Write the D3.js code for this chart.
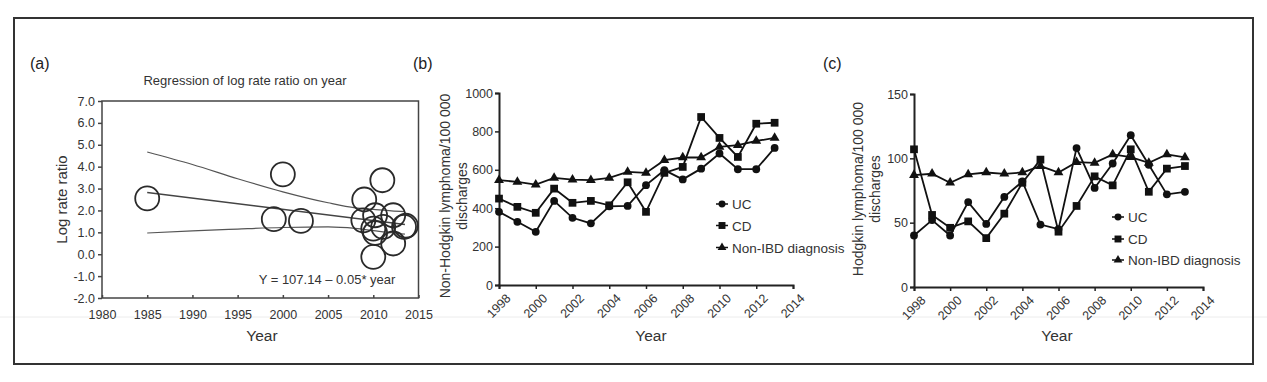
<!DOCTYPE html>
<html>
<head>
<meta charset="utf-8">
<script src="https://cdn.jsdelivr.net/npm/d3@7"></script>
<style>
  body { margin: 0; background: #fff; }
  svg { font-family: "Liberation Sans", Arial, sans-serif; }
</style>
</head>
<body>
<div id="chart"></div>
<script>
// panel (a): meta-regression bubbles
const bubbleYears = [1985, 2000, 1999, 2002, 2011, 2009, 2008.9, 2010.2, 2012.2, 2010, 2011.1, 2013.4, 2012.2, 2010, 2010.2, 2013.6];
const bubbleRatios = [2.55, 3.65, 1.6, 1.52, 3.38, 2.5, 1.55, 1.78, 1.78, 1.17, 1.25, 1.25, 0.49, -0.12, 0.97, 1.3];
const fitYears = [1985, 2013.5];
const fitValues = [2.82, 1.36];
const ciYears = [1985, 1990, 1995, 2000, 2005, 2008, 2010, 2012, 2013.5];
const ciUpper = [4.67, 4.1, 3.45, 2.85, 2.35, 2.12, 2.05, 1.98, 1.95];
const ciLower = [0.97, 1.07, 1.15, 1.22, 1.25, 1.18, 1.08, 0.98, 0.92];
const yTicksA = [-2, -1, 0, 1, 2, 3, 4, 5, 6, 7];
const xTicksA = [1980, 1985, 1990, 1995, 2000, 2005, 2010, 2015];

// panels (b) and (c): yearly rates
const years = d3.range(1998, 2014);
const nhlUC = [381, 329, 277, 438, 350, 321, 410, 412, 520, 598, 550, 606, 685, 603, 603, 714];
const nhlCD = [450, 407, 376, 502, 428, 438, 415, 535, 381, 584, 615, 875, 766, 667, 840, 845];
const nhlNon = [546, 537, 523, 558, 549, 546, 558, 589, 584, 650, 664, 664, 719, 728, 750, 766];
const hlUC = [40, 52, 40, 66, 49, 70, 82, 48.5, 45, 108, 77, 96, 118, 95, 72, 74];
const hlCD = [107, 56, 46, 51, 38, 57, 81, 99, 43, 63, 86, 79, 107, 74, 92, 94];
const hlNon = [87, 88, 81, 87.5, 89, 88, 89, 94, 89, 97, 96.5, 103, 101, 96.5, 103, 100.7];
const xTicksBC = [1998, 2000, 2002, 2004, 2006, 2008, 2010, 2012, 2014];
const seriesNames = ["UC", "CD", "Non-IBD diagnosis"];

const W = 1267, H = 382;
const svg = d3.select("#chart").append("svg")
  .attr("width", W)
  .attr("height", H);

// scan artefact line and outer frame
svg.append("line")
  .attr("x1", 0).attr("x2", W).attr("y1", 317).attr("y2", 317)
  .attr("stroke", "#ececec").attr("stroke-width", 1);

svg.append("rect")
  .attr("x", 14).attr("y", 18)
  .attr("width", 1239).attr("height", 346)
  .attr("fill", "none")
  .attr("stroke", "#333")
  .attr("stroke-width", 2);

// ---------- panel (a) ----------
const xA = d3.scaleLinear().domain([1980, 2015]).range([102, 418.5]);
const yA = d3.scaleLinear().domain([-2, 7]).range([298, 101]);

svg.append("text").attr("x", 30).attr("y", 69)
  .attr("font-size", 16).attr("fill", "#222").text("(a)");

svg.append("text").attr("x", 245).attr("y", 85)
  .attr("text-anchor", "middle").attr("font-size", 13).attr("fill", "#333")
  .text("Regression of log rate ratio on year");

svg.append("rect")
  .attr("x", xA(1980)).attr("y", yA(7))
  .attr("width", xA(2015) - xA(1980)).attr("height", yA(-2) - yA(7))
  .attr("fill", "none").attr("stroke", "#444").attr("stroke-width", 1.5);

const axA_y = svg.append("g")
  .attr("transform", `translate(${xA(1980)},0)`)
  .call(d3.axisLeft(yA).tickValues(yTicksA).tickSize(4).tickFormat(d => d.toFixed(1)));
const axA_x = svg.append("g")
  .attr("transform", `translate(0,${yA(-2)})`)
  .call(d3.axisBottom(xA).tickValues(xTicksA).tickSize(-3).tickPadding(12).tickFormat(d3.format("d")));
[axA_y, axA_x].forEach(g => {
  g.select(".domain").remove();
  g.selectAll("line").attr("stroke", "#444").attr("stroke-width", 1.5);
  g.selectAll("text").attr("font-size", 12.5).attr("fill", "#333").attr("font-family", "Liberation Sans, Arial, sans-serif");
});

svg.append("text")
  .attr("transform", `translate(67,${(yA(7) + yA(-2)) / 2}) rotate(-90)`)
  .attr("text-anchor", "middle").attr("font-size", 15).attr("fill", "#333")
  .text("Log rate ratio");
svg.append("text").attr("x", 262).attr("y", 341)
  .attr("text-anchor", "middle").attr("font-size", 15.5).attr("fill", "#333").text("Year");

const ciLine = d3.line().curve(d3.curveMonotoneX).x(d => xA(d[0])).y(d => yA(d[1]));
[ciUpper, ciLower].forEach(vals => {
  svg.append("path")
    .attr("d", ciLine(ciYears.map((y, i) => [y, vals[i]])))
    .attr("fill", "none").attr("stroke", "#555").attr("stroke-width", 1.2);
});
svg.append("path")
  .attr("d", ciLine(fitYears.map((y, i) => [y, fitValues[i]])))
  .attr("fill", "none").attr("stroke", "#444").attr("stroke-width", 1.4);

svg.append("g").selectAll("circle")
  .data(bubbleYears.map((y, i) => ({ year: y, v: bubbleRatios[i] })))
  .join("circle")
  .attr("cx", d => xA(d.year)).attr("cy", d => yA(d.v))
  .attr("r", 12)
  .attr("fill", "none").attr("stroke", "#2a2a2a").attr("stroke-width", 1.8);

svg.append("text").attr("x", 327).attr("y", 284)
  .attr("text-anchor", "middle").attr("font-size", 13).attr("fill", "#333")
  .text("Y = 107.14 \u2013 0.05* year");

// ---------- panels (b) and (c) ----------
function markerPath(kind, size) {
  const type = kind === 0 ? d3.symbolCircle : kind === 1 ? d3.symbolSquare : d3.symbolTriangle;
  return d3.symbol().type(type).size(size)();
}
const markerSizes = [48, 60, 42];

function drawPanel(opt) {
  const x = d3.scaleLinear().domain([1998, 2014]).range(opt.xr);
  const y = d3.scaleLinear().domain(opt.yd).range(opt.yr);
  const g = svg.append("g");

  g.append("text").attr("x", opt.letterX).attr("y", 69)
    .attr("font-size", 16).attr("fill", "#222").text(opt.letter);

  const ay = g.append("g").attr("transform", `translate(${opt.xr[0]},0)`)
    .call(d3.axisLeft(y).tickValues(opt.yTicks).tickSize(4).tickPadding(2).tickFormat(d3.format("d")));
  const ax = g.append("g").attr("transform", `translate(0,${opt.yr[0]})`)
    .call(d3.axisBottom(x).tickValues(xTicksBC).tickSize(4).tickFormat(d3.format("d")));
  [ay, ax].forEach(a => {
    a.select(".domain").attr("stroke", "#222").attr("stroke-width", 2);
    a.selectAll("line").attr("stroke", "#222").attr("stroke-width", 1.5);
    a.selectAll("text").attr("font-size", 12.5).attr("fill", "#333")
      .attr("font-family", "Liberation Sans, Arial, sans-serif");
  });
  ax.selectAll("text")
    .attr("text-anchor", "end")
    .attr("dy", "0.35em")
    .attr("transform", "translate(4,6) rotate(-45)");

  g.append("text").attr("text-anchor", "middle")
    .attr("transform", `translate(${opt.labX},${opt.labY}) rotate(-90)`)
    .attr("font-size", 14).attr("fill", "#333")
    .selectAll("tspan").data(opt.yLabel).join("tspan")
    .attr("x", 0).attr("dy", (d, i) => i === 0 ? 0 : "1.2em").text(d => d);

  g.append("text").attr("x", opt.yearX).attr("y", 341)
    .attr("text-anchor", "middle").attr("font-size", 15.5).attr("fill", "#333").text("Year");

  const line = d3.line().x((d, i) => x(years[i])).y(d => y(d));
  opt.series.forEach((vals, k) => {
    g.append("path").attr("d", line(vals))
      .attr("fill", "none").attr("stroke", "#111").attr("stroke-width", 1.8);
    g.append("g").selectAll("path")
      .data(vals).join("path")
      .attr("transform", (d, i) => `translate(${x(years[i])},${y(d)})`)
      .attr("d", markerPath(k, markerSizes[k]))
      .attr("fill", "#111");
  });

  // legend
  seriesNames.forEach((name, k) => {
    const ly = opt.legY[k];
    g.append("line").attr("x1", opt.legX - 6).attr("x2", opt.legX + 6)
      .attr("y1", ly).attr("y2", ly).attr("stroke", "#111").attr("stroke-width", 1.5);
    g.append("path").attr("transform", `translate(${opt.legX},${ly})`)
      .attr("d", markerPath(k, markerSizes[k] * 0.8)).attr("fill", "#111");
    g.append("text").attr("x", opt.legX + 10).attr("y", ly + 5)
      .attr("font-size", 13.5).attr("fill", "#333").text(name);
  });
}

drawPanel({
  letter: "(b)", letterX: 413,
  xr: [499, 793], yd: [0, 1000], yr: [285, 93],
  yTicks: [0, 200, 400, 600, 800, 1000],
  series: [nhlUC, nhlCD, nhlNon],
  yLabel: ["Non-Hodgkin lymphoma/100 000", "discharges"],
  labX: 450, labY: 196, yearX: 651,
  legX: 722, legY: [204, 225.5, 247.5]
});

drawPanel({
  letter: "(c)", letterX: 823,
  xr: [914, 1203], yd: [0, 150], yr: [287, 94],
  yTicks: [0, 50, 100, 150],
  series: [hlUC, hlCD, hlNon],
  yLabel: ["Hodgkin lymphoma/100 000", "discharges"],
  labX: 863, labY: 189, yearX: 1057,
  legX: 1118, legY: [217, 239, 260]
});
</script>
</body>
</html>
